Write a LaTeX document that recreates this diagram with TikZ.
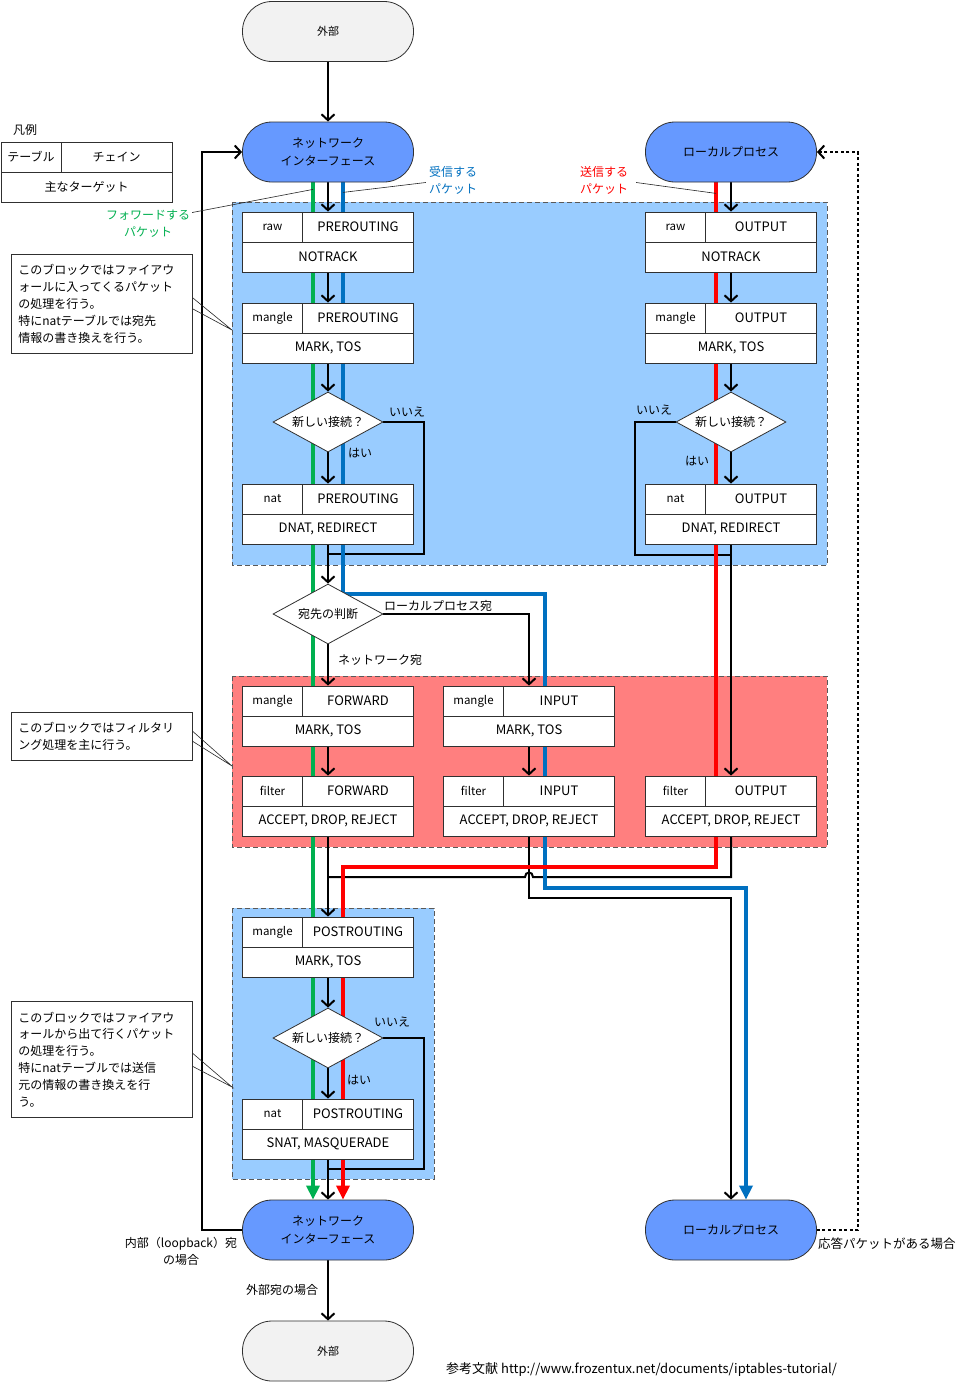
\documentclass[tikz,border=0pt]{standalone}
\usepackage{fontspec}
\setmainfont{Noto Sans CJK JP}
\usetikzlibrary{shapes.geometric,arrows.meta}
\pgfdeclarelayer{bg}
\pgfdeclarelayer{wires}
\pgfsetlayers{bg,wires,main}

\definecolor{regblue}{HTML}{99CCFF}
\definecolor{regred}{HTML}{FF7F7F}
\definecolor{pillblue}{HTML}{6699FF}
\definecolor{pillgray}{HTML}{F2F2F2}
\definecolor{fwdgreen}{HTML}{00B050}
\definecolor{rcvblue}{HTML}{0070C0}
\definecolor{sndred}{HTML}{FF0000}
\definecolor{edgegray}{HTML}{303030}

% one iptables chain: table | chain on top, main targets below
% #1 name, #2 centre x, #3 top y, #4 table, #5 chain, #6 targets
\newcommand\chainbox[6]{%
  \node[cbox] (#1) at (#2,#3+30) {};
  \node[tcell, anchor=north west] (#1-t) at (#1.north west) {#4};
  \node[ccell, anchor=north east] (#1-c) at (#1.north east) {#5};
  \node[gcell, anchor=south] (#1-g) at (#1.south) {#6};
}

\begin{document}
\begin{tikzpicture}[x=1pt,y=-1pt,
  cbox/.style={draw=edgegray, fill=white, line width=0.8pt, minimum width=171pt, minimum height=60pt, inner sep=0pt},
  cell/.style={draw=edgegray, fill=white, line width=0.8pt, minimum height=30pt, inner sep=0pt, font=\fontsize{13}{15}\selectfont},
  tcell/.style={cell, minimum width=60pt, font=\fontsize{11.5}{13}\selectfont},
  ccell/.style={cell, minimum width=111pt},
  gcell/.style={cell, minimum width=171pt},
  pill/.style={draw=edgegray, line width=0.8pt, rounded corners=29.5pt, minimum width=171pt, minimum height=60pt, align=center, font=\fontsize{12}{18}\selectfont},
  decision/.style={diamond, draw=edgegray, fill=white, line width=0.8pt, minimum width=110pt, minimum height=60pt, inner sep=0pt, aspect=1.83, font=\fontsize{12}{14}\selectfont},
  region/.style={draw=black!65, dash pattern=on 5pt off 3pt, line width=0.9pt},
  blk/.style={line width=2pt, black},
  flow/.style={blk, -{Straight Barb[length=6pt,width=13pt]}},
  pkt/.style={line width=4pt, -{Triangle[length=14pt,width=13pt]}},
  lbl/.style={font=\fontsize{12}{17}\selectfont, inner sep=0pt, align=center},
  note/.style={draw=edgegray, fill=white, line width=0.8pt, align=left, anchor=north west, minimum width=181pt, inner xsep=7pt, inner ysep=0pt, text width=167pt, font=\fontsize{12}{16.8}\selectfont},
  leader/.style={line width=0.6pt, black!85}]

\useasboundingbox (0,0) rectangle (962,1382);

% ---------- shaded blocks ----------
\begin{pgfonlayer}{bg}
  \fill[white] (0,0) rectangle (962,1382);
  \filldraw[region, fill=regblue] (232,202) rectangle (827,565);
  \filldraw[region, fill=regred]  (232,676) rectangle (827,847);
  \filldraw[region, fill=regblue] (232,908) rectangle (434,1179);
\end{pgfonlayer}

% ---------- end points ----------
\node[pill, fill=pillgray, font=\fontsize{11}{14}\selectfont] (extT) at (328,31.5) {外部};
\node[pill, fill=pillblue] (niT) at (328,152) {ネットワーク\\インターフェース};
\node[pill, fill=pillblue] (lpT) at (731,152) {ローカルプロセス};
\node[pill, fill=pillblue] (niB) at (328,1230) {ネットワーク\\インターフェース};
\node[pill, fill=pillblue] (lpB) at (731,1230) {ローカルプロセス};
\node[pill, fill=pillgray, font=\fontsize{11}{14}\selectfont] (extB) at (328,1351) {外部};

% ---------- legend ----------
\node[lbl] (lgT) at (25,130) {凡例};
\chainbox{lg}{86.5}{142}{\fontsize{12}{14}\selectfont テーブル}{\fontsize{12}{14}\selectfont チェイン}{\fontsize{12}{14}\selectfont 主なターゲット}

% ---------- incoming / outgoing chains ----------
\chainbox{rawP}{328}{212}{raw}{PREROUTING}{NOTRACK}
\chainbox{mangP}{328}{303}{mangle}{PREROUTING}{MARK, TOS}
\node[decision] (d1) at (328,422) {新しい接続？};
\chainbox{natP}{328}{484}{nat}{PREROUTING}{DNAT, REDIRECT}

\chainbox{rawO}{731}{212}{raw}{OUTPUT}{NOTRACK}
\chainbox{mangO}{731}{303}{mangle}{OUTPUT}{MARK, TOS}
\node[decision] (d2) at (731,422) {新しい接続？};
\chainbox{natO}{731}{484}{nat}{OUTPUT}{DNAT, REDIRECT}

\node[decision] (dd) at (328,614) {宛先の判断};

% ---------- filtering ----------
\chainbox{mangF}{328}{686}{mangle}{FORWARD}{MARK, TOS}
\chainbox{mangI}{529}{686}{mangle}{INPUT}{MARK, TOS}
\chainbox{filtF}{328}{776}{filter}{FORWARD}{ACCEPT, DROP, REJECT}
\chainbox{filtI}{529}{776}{filter}{INPUT}{ACCEPT, DROP, REJECT}
\chainbox{filtO}{731}{776}{filter}{OUTPUT}{ACCEPT, DROP, REJECT}

% ---------- outgoing ----------
\chainbox{mangPost}{328}{917}{mangle}{POSTROUTING}{MARK, TOS}
\node[decision] (d3) at (328,1038) {新しい接続？};
\chainbox{natPost}{328}{1099}{nat}{POSTROUTING}{SNAT, MASQUERADE}

% ---------- notes ----------
\node[note, minimum height=99pt] (n1) at (11,254) {このブロックではファイアウ\\ォールに入ってくるパケット\\の処理を行う。\\特にnatテーブルでは宛先\\情報の書き換えを行う。};
\node[note, minimum height=48pt] (n2) at (11,712) {このブロックではフィルタリ\\ング処理を主に行う。};
\node[note, minimum height=116pt] (n3) at (11,1001) {このブロックではファイアウ\\ォールから出て行くパケット\\の処理を行う。\\特にnatテーブルでは送信\\元の情報の書き換えを行\\う。};
\coordinate (c1) at (232,330);
\coordinate (c2) at (232,766);
\coordinate (c3) at (232,1087);
\draw[leader] ([yshift=6pt]n1.east) -- (c1) -- ([yshift=-5pt]n1.east);
\draw[leader] ([yshift=5pt]n2.east) -- (c2) -- ([yshift=-5pt]n2.east);
\draw[leader] ([yshift=6pt]n3.east) -- (c3) -- ([yshift=-7pt]n3.east);

% ---------- packet kind labels ----------
\node[lbl, text=rcvblue] (lrcv) at (453,180.5) {受信する\\パケット};
\node[lbl, text=fwdgreen] (lfwd) at (148,223.5) {フォワードする\\パケット};
\node[lbl, text=sndred] (lsnd) at (604,180.5) {送信する\\パケット};
\draw[leader] ([xshift=-3pt,yshift=-2pt]lrcv.west) -- ([xshift=15pt,yshift=-10pt]niT.south);
\draw[leader] ([xshift=2pt,yshift=11pt]lfwd.east) -- ([xshift=-15pt,yshift=-7pt]niT.south);
\draw[leader] ([xshift=8pt,yshift=-2pt]lsnd.east) -- ([xshift=-15pt,yshift=-11pt]lpT.south);

% ---------- junction points ----------
\coordinate (j1) at (328,554);
\coordinate (j2) at (731,555);
\coordinate (j3) at (328,1169);
\coordinate (j4) at (328,877);
\coordinate (hop) at (529,877);

\begin{pgfonlayer}{wires}
  % forwarded packets
  \draw[pkt, fwdgreen] ([xshift=-15pt]niT.south) -- ([xshift=-15pt]niB.north);
  % main flow
  \draw[flow] (extT) -- (niT);
  \draw[flow] (niT) -- (rawP);
  \draw[flow] (rawP) -- (mangP);
  \draw[flow] (mangP) -- (d1);
  \draw[flow] (d1) -- (natP);
  \draw[blk] (d1.east) -- ++(41,0) |- (j1);
  \draw[flow] (natP) -- (dd);
  \draw[flow] (dd) -- (mangF);
  \draw[flow] (dd.east) -| (mangI.north);
  \draw[flow] (mangF) -- (filtF);
  \draw[flow] (mangI) -- (filtI);
  \draw[flow] (filtF) -- (mangPost);
  \draw[flow] (mangPost) -- (d3);
  \draw[flow] (d3) -- (natPost);
  \draw[blk] (d3.east) -- ++(41,0) |- (j3);
  \draw[flow] (natPost) -- (niB);
  \draw[flow] (niB) -- (extB);
  \draw[flow] (lpT) -- (rawO);
  \draw[flow] (rawO) -- (mangO);
  \draw[flow] (mangO) -- (d2);
  \draw[flow] (d2) -- (natO);
  \draw[blk] (d2.west) -- ++(-41,0) |- (j2);
  \draw[flow] (natO) -- (filtO);
  \draw[blk] (filtO.south) |- ([xshift=4pt]hop)
     .. controls ([xshift=4pt,yshift=6pt]hop) and ([xshift=-4pt,yshift=6pt]hop) .. ([xshift=-4pt]hop) -- (j4);
  \draw[flow] (filtI.south) -- ++(0,62) -| (lpB.north);
  % loopback and replies
  \draw[flow] (niB.west) -- ++(-40,0) |- (niT.west);
  \draw[flow, dash pattern=on 3pt off 2.5pt] (lpB.east) -- ++(41,0) |- (lpT.east);
  % received packets
  \draw[pkt, rcvblue] ([xshift=15pt]niT.south) |- (545,594) |- (746,888) -- ([xshift=15pt]lpB.north);
  % sent packets
  \draw[pkt, sndred] ([xshift=-15pt]lpT.south) |- (343,867) -- ([xshift=15pt]niB.north);
\end{pgfonlayer}

% ---------- branch labels ----------
\node[lbl] (l1) at (407,412) {いいえ};
\node[lbl] (l2) at (360,453) {はい};
\node[lbl] (l3) at (654,410) {いいえ};
\node[lbl] (l4) at (697,461) {はい};
\node[lbl] (l5) at (438,606) {ローカルプロセス宛};
\node[lbl] (l6) at (380,660) {ネットワーク宛};
\node[lbl] (l7) at (392,1022) {いいえ};
\node[lbl] (l8) at (359,1080) {はい};
\node[lbl] (l9) at (282,1290) {外部宛の場合};
\node[lbl] (l10) at (181,1251) {内部（loopback）宛\\の場合};
\node[lbl, anchor=west, font=\fontsize{12.5}{17}\selectfont] (l11) at (818,1244) {応答パケットがある場合};
\node[lbl, anchor=west, font=\fontsize{13}{17}\selectfont] (ref) at (446,1370) {参考文献 http://www.frozentux.net/documents/iptables-tutorial/};

\end{tikzpicture}
\end{document}
